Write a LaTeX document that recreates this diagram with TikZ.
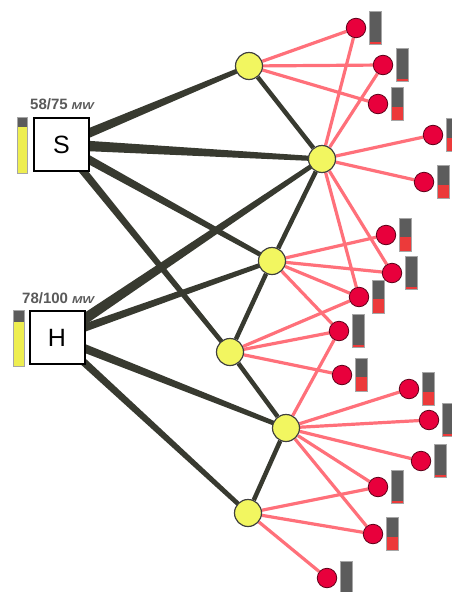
\documentclass[tikz,border=0pt]{standalone}
\usepackage{fontspec}
\setmainfont{Liberation Sans}
\usetikzlibrary{calc,backgrounds}

\definecolor{darkedge}{RGB}{56,58,48}
\definecolor{pinkedge}{RGB}{255,112,122}
\definecolor{nodeyellow}{RGB}{242,246,96}
\definecolor{gaugeyellow}{RGB}{238,238,80}
\definecolor{nodered}{RGB}{232,0,60}
\definecolor{bargray}{RGB}{92,92,92}
\definecolor{barred}{RGB}{236,58,58}
\definecolor{labelgray}{RGB}{90,90,90}

\tikzset{
  hub/.style={circle, draw=black!75, line width=1.2pt, fill=nodeyellow,
    minimum size=27pt, inner sep=0pt},
  load/.style={circle, draw=black!60!nodered, line width=0.8pt, fill=nodered,
    minimum size=19.5pt, inner sep=0pt},
  plant/.style={draw=black, line width=2pt, fill=white, minimum width=55pt,
    minimum height=53pt, inner sep=0pt, font=\fontsize{25}{25}\selectfont},
  feed/.style={pinkedge, line width=3.2pt},
  trunk/.style={darkedge, line width=4.5pt},
  caplabel/.style={anchor=base west, inner sep=0pt, text=labelgray,
    font=\fontsize{15}{15}\selectfont\bfseries},
  levelframe/.style={draw=black!35, line width=0.6pt},
}

% tapered supply line from #1 to #2, half widths #3 and #4 (pt)
\newcommand\taper[4]{%
  \fill[darkedge] ($(#1.center)!#3pt!90:(#2.center)$) -- ($(#1.center)!#3pt!-90:(#2.center)$)
    -- ($(#2.center)!#4pt!90:(#1.center)$) -- ($(#2.center)!#4pt!-90:(#1.center)$) -- cycle;}

% demand gauge beside a load, #2 = filled fraction
\newcommand\loadbar[2]{%
  \fill[bargray] ($(#1)+(13.5,-16.5)$) rectangle ($(#1)+(25,16.5)$);
  \fill[barred] ($(#1)+(13.5,16.5-33*#2)$) rectangle ($(#1)+(25,16.5)$);
  \draw[levelframe] ($(#1)+(13.5,-16.5)$) rectangle ($(#1)+(25,16.5)$);}

\newcommand\mwunit{{\fontsize{10}{10}\selectfont\itshape\scalebox{1.25}[1]{MW}}}

\begin{document}
\begin{tikzpicture}[x=1pt,y=-1pt]
\useasboundingbox (0,0) rectangle (452,592);

% plants
\node[plant] (S) at (61.5,144.5) {S};
\node[plant] (H) at (57,337.5) {H};
\node[caplabel] (Slab) at (30,109.5) {58/75\hspace{4pt}\mwunit};
\node[caplabel] (Hlab) at (22,303) {78/100\hspace{4pt}\mwunit};

% plant output gauges
\fill[gaugeyellow] (17,127) rectangle (27,173);
\fill[bargray] (17,117) rectangle (27,127);
\draw[levelframe] (17,117) rectangle (27,173);
\fill[gaugeyellow] (13,322) rectangle (24,366);
\fill[bargray] (13,310) rectangle (24,322);
\draw[levelframe] (13,310) rectangle (24,366);

% substations
\node[hub] (Y1) at (249,66) {};
\node[hub] (Y2) at (322,159) {};
\node[hub] (Y3) at (272,261) {};
\node[hub] (Y4) at (230,352) {};
\node[hub] (Y5) at (286,428) {};
\node[hub] (Y6) at (248,513) {};

% loads
\node[load] (R1)  at (356,28)  {};
\node[load] (R2)  at (383,65)  {};
\node[load] (R3)  at (378,104) {};
\node[load] (R4)  at (433,135) {};
\node[load] (R5)  at (424,182) {};
\node[load] (R6)  at (386,235) {};
\node[load] (R7)  at (392,273) {};
\node[load] (R8)  at (359,297) {};
\node[load] (R9)  at (339,331) {};
\node[load] (R10) at (342,375) {};
\node[load] (R11) at (409,389) {};
\node[load] (R12) at (429,420) {};
\node[load] (R13) at (421,461) {};
\node[load] (R14) at (378,487) {};
\node[load] (R15) at (373,534) {};
\node[load] (R16) at (327,578) {};

% load gauges
\loadbar{R1}{0.09}
\loadbar{R2}{0.09}
\loadbar{R3}{0.4}
\loadbar{R4}{0.42}
\loadbar{R5}{0.42}
\loadbar{R6}{0.45}
\loadbar{R7}{0.08}
\loadbar{R8}{0.43}
\loadbar{R9}{0.09}
\loadbar{R10}{0.43}
\loadbar{R11}{0.42}
\loadbar{R12}{0.09}
\loadbar{R13}{0.09}
\loadbar{R14}{0.09}
\loadbar{R15}{0.4}
\loadbar{R16}{0.09}

\begin{pgfonlayer}{background}
  \fill[white] (0,0) rectangle (452,592);
  % transmission from plants
  \taper{S}{Y1}{5}{2.2}
  \taper{S}{Y2}{5.5}{2.4}
  \taper{S}{Y3}{4.5}{2.2}
  \taper{S}{Y4}{4}{2.2}
  \taper{H}{Y2}{5.5}{2.2}
  \taper{H}{Y3}{4.2}{2.2}
  \taper{H}{Y5}{4.5}{2.2}
  \taper{H}{Y6}{4}{2.2}
  % ties between substations
  \draw[trunk] (Y1) -- (Y2);
  \draw[trunk] (Y2) -- (Y3);
  \draw[trunk] (Y3) -- (Y4);
  \draw[trunk] (Y4) -- (Y5);
  \draw[trunk] (Y5) -- (Y6);
  % feeders
  \foreach \a/\b in {Y1/R1, Y1/R2, Y1/R3,
      Y2/R1, Y2/R2, Y2/R4, Y2/R5, Y2/R7, Y2/R8,
      Y3/R6, Y3/R7, Y3/R8, Y3/R9,
      Y4/R8, Y4/R9, Y4/R10,
      Y5/R9, Y5/R11, Y5/R12, Y5/R13, Y5/R14, Y5/R15,
      Y6/R14, Y6/R15, Y6/R16}
    \draw[feed] (\a) -- (\b);
\end{pgfonlayer}
\end{tikzpicture}
\end{document}
